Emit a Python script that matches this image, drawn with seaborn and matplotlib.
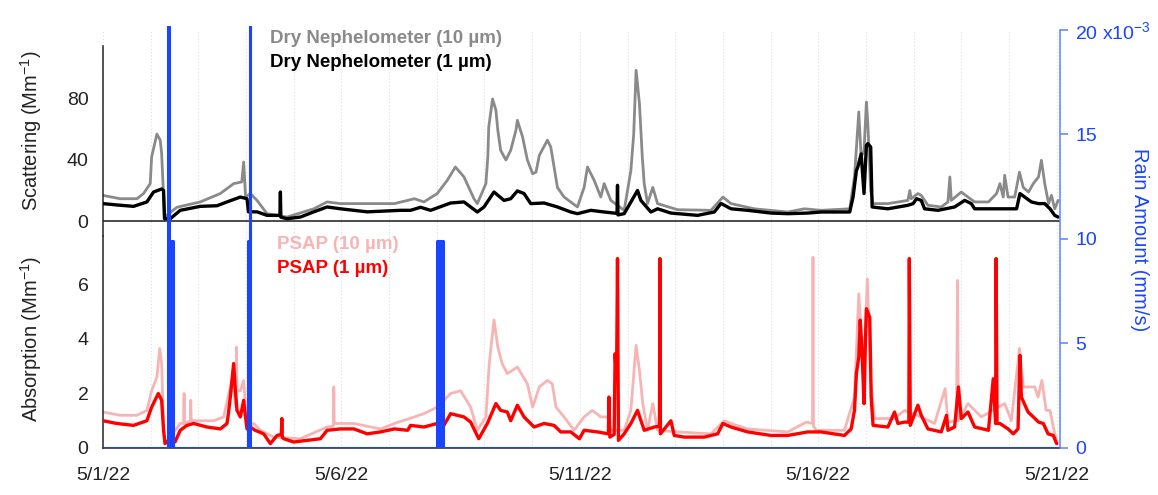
import matplotlib
matplotlib.use('Agg')
import matplotlib.pyplot as plt
import seaborn as sns
import pandas as pd

# time axis: days after 5/1/22 00:00
date_ticks = [0, 5, 10, 15, 20]
date_labels = ['5/1/22', '5/6/22', '5/11/22', '5/16/22', '5/21/22']

# Dry nephelometer scattering, 1 um (black)
scat1_day = [0.00, 0.30, 0.64, 0.92, 1.06, 1.23, 1.27, 1.29, 1.41, 1.62, 2.04, 2.39, 2.60, 2.88,
             3.02, 3.05, 3.23, 3.44, 3.71, 3.72, 3.73, 3.86, 4.14, 4.42, 4.70, 4.98, 5.54, 6.24,
             6.45, 6.66, 6.87, 7.29, 7.57, 7.85, 7.99, 8.20, 8.41, 8.55, 8.69, 8.83, 8.97, 9.25,
             9.53, 9.81, 9.95, 10.23, 10.51, 10.78, 10.79, 10.80, 10.93, 11.21, 11.28, 11.49,
             11.63, 11.91, 12.47, 12.82, 12.96, 13.17, 13.52, 14.01, 14.36, 14.78, 15.06, 15.66,
             15.73, 15.80, 15.83, 15.90, 15.96, 16.01, 16.04, 16.10, 16.13, 16.46, 16.88, 16.99,
             17.06, 17.16, 17.23, 17.51, 17.86, 18.07, 18.21, 18.28, 18.70, 19.16, 19.23, 19.33,
             19.47, 19.62, 19.75, 19.86, 19.96, 20.03]
scat1_val = [11.4, 10.5, 9.6, 12.5, 19.0, 21.0, 20.0, 1.5, 1.5, 7.0, 9.6, 10.0, 12.5, 15.7,
             14.6, 6.0, 6.0, 3.7, 3.7, 19.0, 2.5, 1.5, 2.6, 6.0, 9.2, 8.0, 6.0, 7.0,
             7.0, 9.0, 7.0, 11.8, 12.5, 5.9, 9.2, 19.0, 13.5, 14.6, 19.7, 18.0, 11.4, 11.8,
             9.2, 5.9, 4.8, 7.0, 5.9, 5.0, 23.4, 4.0, 4.8, 20.0, 13.5, 5.9,
             8.0, 5.2, 3.7, 5.9, 11.5, 8.0, 7.0, 5.2, 4.8, 5.2, 5.9, 5.9,
             15.7, 33.0, 35.4, 44.0, 18.0, 49.6, 50.7, 48.5, 9.2, 8.0, 10.3, 11.4,
             14.6, 13.5, 8.0, 7.0, 9.2, 13.5, 11.4, 8.0, 8.0, 8.0, 18.0, 15.7,
             12.5, 11.4, 11.4, 8.0, 3.7, 2.6]

# Dry nephelometer scattering, 10 um (grey)
scat10_day = [0.00, 0.36, 0.71, 0.85, 0.99, 1.02, 1.13, 1.20, 1.23, 1.29, 1.55, 2.04, 2.46, 2.74,
              2.91, 2.95, 2.99, 3.09, 3.23, 3.44, 3.86, 4.42, 4.70, 4.98, 5.54, 6.11, 6.53, 6.73,
              7.01, 7.22, 7.39, 7.57, 7.78, 7.85, 8.03, 8.07, 8.09, 8.17, 8.24, 8.28, 8.34, 8.45,
              8.55, 8.66, 8.69, 8.80, 8.90, 9.01, 9.08, 9.15, 9.32, 9.39, 9.46, 9.53, 9.67, 9.95,
              10.09, 10.16, 10.30, 10.44, 10.51, 10.65, 10.93, 11.07, 11.13, 11.18, 11.25, 11.31,
              11.35, 11.42, 11.53, 11.63, 12.05, 12.75, 13.00, 13.17, 13.66, 14.36, 14.71, 15.06,
              15.66, 15.76, 15.85, 15.90, 15.96, 16.01, 16.04, 16.10, 16.15, 16.46, 16.88, 16.92,
              16.95, 17.09, 17.16, 17.30, 17.58, 17.72, 17.76, 17.79, 18.00, 18.14, 18.28, 18.57,
              18.74, 18.81, 18.88, 18.91, 18.98, 19.12, 19.22, 19.30, 19.41, 19.51, 19.62, 19.68,
              19.75, 19.83, 19.89, 19.96, 20.03]
scat10_val = [16.8, 14.6, 14.6, 18.0, 24.5, 42.0, 57.0, 53.0, 44.0, 2.6, 9.0, 12.5, 18.0, 24.5,
              25.6, 38.7, 15.7, 18.0, 13.5, 4.8, 2.6, 8.0, 12.5, 11.4, 11.4, 11.4, 14.6, 12.5,
              18.0, 26.7, 35.4, 28.9, 14.6, 11.4, 24.5, 42.0, 61.6, 80.0, 72.6, 59.5, 46.3, 40.0,
              46.3, 59.5, 66.0, 55.0, 40.0, 31.0, 32.0, 43.0, 53.0, 48.5, 35.4, 22.0, 15.7, 9.2,
              22.0, 35.4, 26.7, 15.7, 24.5, 13.5, 7.0, 33.0, 57.0, 98.8, 77.0, 42.0,
              24.5, 11.4, 22.0, 11.4, 7.4, 7.0, 15.7, 11.4, 8.0, 5.9, 8.0, 7.0,
              8.0, 28.9, 71.5, 42.0, 46.0, 78.0, 63.8, 20.0, 11.4, 11.4, 13.5, 20.0,
              14.6, 18.0, 16.8, 10.3, 9.2, 12.5, 28.9, 13.5, 19.0, 15.7, 12.5, 12.5,
              18.0, 24.5, 15.7, 30.0, 15.7, 15.7, 32.0, 22.0, 19.0, 24.5, 28.9, 39.8,
              24.5, 11.4, 16.8, 8.0, 13.5]

# PSAP absorption, 1 um (red)
abs1_day = [0.00, 0.29, 0.64, 0.92, 1.02, 1.16, 1.23, 1.27, 1.30, 1.41, 1.51, 1.62, 1.76, 1.90,
            2.18, 2.46, 2.60, 2.63, 2.67, 2.74, 2.77, 2.81, 2.88, 2.95, 2.98, 3.02, 3.09, 3.19,
            3.37, 3.51, 3.65, 3.74, 3.75, 3.76, 3.79, 4.00, 4.28, 4.56, 4.70, 4.98, 5.26, 5.54,
            5.82, 6.11, 6.39, 6.45, 6.73, 7.01, 7.15, 7.29, 7.57, 7.71, 7.88, 8.06, 8.24, 8.34,
            8.48, 8.55, 8.69, 8.83, 9.04, 9.25, 9.46, 9.60, 9.81, 9.99, 10.09, 10.37, 10.60,
            10.61, 10.63, 10.72, 10.74, 10.77, 10.79, 10.81, 10.93, 11.07, 11.21, 11.35, 11.56,
            11.67, 11.68, 11.69, 11.91, 11.98, 12.19, 12.61, 12.89, 13.00, 13.17, 13.52, 14.01,
            14.36, 14.78, 15.06, 15.55, 15.69, 15.76, 15.80, 15.85, 15.88, 15.92, 15.96, 15.99,
            16.01, 16.08, 16.11, 16.15, 16.46, 16.60, 16.67, 16.81, 16.90, 16.91, 16.93, 17.09,
            17.16, 17.30, 17.58, 17.69, 17.72, 17.86, 17.94, 18.00, 18.14, 18.28, 18.57, 18.67,
            18.72, 18.73, 18.75, 18.81, 18.98, 19.09, 19.19, 19.23, 19.26, 19.40, 19.51, 19.62,
            19.72, 19.82, 19.93, 20.00]
abs1_val = [1.00, 0.90, 0.83, 1.00, 1.50, 2.00, 1.75, 0.65, 0.16, 0.34, 0.22, 0.65, 0.83, 0.90,
            0.77, 0.70, 0.90, 1.26, 1.87, 3.10, 2.24, 1.38, 1.14, 1.75, 1.26, 0.70, 0.77, 0.65,
            0.52, 0.16, 0.46, 0.50, 1.08, 0.40, 0.34, 0.22, 0.28, 0.34, 0.65, 0.70, 0.70, 0.52,
            0.59, 0.70, 0.65, 0.83, 0.77, 0.90, 0.83, 1.26, 1.14, 0.95, 0.34, 0.90, 1.63, 1.38,
            1.32, 1.00, 1.57, 1.14, 0.77, 0.90, 0.83, 0.59, 0.59, 0.34, 0.65, 0.59, 0.52,
            1.87, 0.40, 0.50, 3.46, 2.50, 6.95, 0.28, 0.52, 0.90, 1.38, 0.65, 0.77,
            0.80, 6.95, 0.52, 1.00, 0.46, 0.40, 0.40, 0.52, 0.90, 0.77, 0.59, 0.46,
            0.46, 0.59, 0.59, 0.46, 0.70, 1.38, 2.73, 3.34, 4.69, 3.46, 1.63, 3.95,
            5.11, 4.80, 1.87, 0.83, 0.77, 1.32, 0.90, 0.95, 0.95, 6.95, 0.83, 1.57,
            1.20, 0.70, 0.59, 1.20, 0.65, 0.77, 2.24, 1.08, 1.32, 0.77, 0.65, 2.54,
            0.90, 6.95, 0.90, 0.90, 0.70, 0.52, 0.70, 3.40, 1.87, 1.32, 1.14, 0.95,
            0.90, 0.52, 0.46, 0.16]

# PSAP absorption, 10 um (pink)
abs10_day = [0.00, 0.36, 0.71, 0.92, 1.02, 1.13, 1.19, 1.23, 1.27, 1.30, 1.41, 1.62, 1.69, 1.70,
             1.71, 1.83, 1.84, 1.85, 2.04, 2.32, 2.53, 2.70, 2.79, 2.80, 2.81, 2.88, 2.95, 3.02,
             3.16, 3.30, 3.58, 4.14, 4.70, 4.83, 4.84, 4.85, 5.26, 5.82, 6.11, 6.53, 6.73, 7.01,
             7.29, 7.50, 7.71, 7.85, 8.03, 8.10, 8.20, 8.28, 8.37, 8.48, 8.69, 8.90, 9.01, 9.15,
             9.32, 9.42, 9.50, 9.67, 9.88, 10.09, 10.26, 10.44, 10.58, 10.65, 10.93, 11.07, 11.18,
             11.25, 11.32, 11.42, 11.53, 11.63, 12.05, 12.75, 13.03, 13.17, 13.52, 14.36, 14.75,
             14.88, 14.89, 14.90, 14.96, 15.55, 15.76, 15.85, 15.90, 15.96, 16.03, 16.10, 16.18,
             16.60, 16.81, 17.16, 17.44, 17.66, 17.72, 17.90, 17.92, 17.94, 18.14, 18.42, 18.91,
             19.05, 19.22, 19.30, 19.54, 19.61, 19.69, 19.78, 19.86, 19.96, 20.01]
abs10_val = [1.32, 1.20, 1.20, 1.38, 2.10, 2.60, 3.65, 3.10, 0.80, 0.20, 0.40, 0.90, 0.90, 2.00,
             0.90, 1.00, 1.75, 1.00, 1.00, 1.00, 1.14, 2.48, 1.50, 3.70, 2.10, 2.10, 2.48, 0.77,
             0.90, 0.65, 0.40, 0.34, 0.77, 0.80, 2.24, 0.90, 0.90, 0.70, 0.90, 1.14, 1.26, 1.50,
             2.00, 2.10, 1.50, 0.65, 1.14, 3.10, 4.70, 3.70, 3.10, 2.73, 2.97, 2.36, 1.50, 2.24,
             2.48, 2.36, 1.50, 1.14, 0.65, 1.14, 1.38, 1.14, 1.14, 0.65, 0.65, 1.38, 3.77,
             2.85, 1.63, 0.65, 1.63, 0.65, 0.59, 0.52, 1.00, 0.90, 0.70, 0.59, 0.95,
             0.90, 7.00, 0.80, 0.65, 0.65, 1.87, 5.66, 4.32, 3.10, 6.20, 2.48, 1.08,
             1.08, 1.38, 1.14, 0.90, 2.18, 0.95, 1.00, 6.15, 1.00, 1.63, 1.14, 1.63,
             1.00, 3.65, 2.24, 2.24, 1.87, 2.48, 1.38, 1.38, 0.52, 0.16]

# rain amount (mm/s), step series
rain_day = [0.00, 1.36, 1.375, 1.47, 3.045, 3.075, 3.09, 7.015, 7.135, 20.07]
rain_val = [0.0, 0.030, 0.0099, 0.0, 0.0099, 0.030, 0.0, 0.0099, 0.0, 0.0]
rain_ticks = [0, 0.005, 0.010, 0.015, 0.020]
rain_labels = ['0', '5', '10', '15', '20 x10$^{-3}$']

sns.set_style('white')
plt.rcParams['font.family'] = ['Liberation Sans', 'DejaVu Sans']
plt.rcParams['mathtext.default'] = 'regular'

GREY, BLACK, PINK, RED, BLUE = '#8a8a8a', '#000000', '#f7b4b4', '#ff0000', '#1a45ff'
XMAX = 20.07

fig = plt.figure(figsize=(11.58, 4.95), dpi=100)
ax_top = fig.add_axes([0.08895, 0.5232, 0.82642, 0.4162])
ax_bot = fig.add_axes([0.08895, 0.09495, 0.82642, 0.4283])
ax_rain = fig.add_axes([0.08895, 0.09495, 0.82642, 0.8525])

scat10 = pd.DataFrame({'day': scat10_day, 'val': scat10_val})
scat1 = pd.DataFrame({'day': scat1_day, 'val': scat1_val})
abs10 = pd.DataFrame({'day': abs10_day, 'val': abs10_val})
abs1 = pd.DataFrame({'day': abs1_day, 'val': abs1_val})

# top panel: scattering
ax_top.axhline(0, color='#3c3c3c', lw=1.3, zorder=1)
sns.lineplot(data=scat10, x='day', y='val', ax=ax_top, color=GREY, lw=2.0,
             estimator=None, sort=False, zorder=2)
sns.lineplot(data=scat1, x='day', y='val', ax=ax_top, color=BLACK, lw=2.4,
             estimator=None, sort=False, zorder=3)
ax_top.set_ylim(-9.84, 125.2)
ax_top.spines['left'].set_bounds(-9.84, 114.75)

# bottom panel: absorption
sns.lineplot(data=abs10, x='day', y='val', ax=ax_bot, color=PINK, lw=2.0,
             estimator=None, sort=False, zorder=2)
sns.lineplot(data=abs1, x='day', y='val', ax=ax_bot, color=RED, lw=2.4,
             estimator=None, sort=False, zorder=3)
ax_bot.set_ylim(0, 7.78)

for ax in (ax_top, ax_bot):
    ax.set_xlim(0, XMAX)
    ax.set_xlabel('')
    ax.set_ylabel('')
    ax.patch.set_alpha(0)
    for s in ('top', 'right'):
        ax.spines[s].set_visible(False)
    ax.spines['left'].set_linewidth(1.1)
    ax.set_xticks(date_ticks)
    ax.set_xticks(range(21), minor=True)
    ax.grid(which='both', axis='x', color='#dedede', lw=0.8, ls=(0, (1, 2)))
    ax.grid(False, axis='y')
    ax.tick_params(axis='y', which='major', direction='out', length=7, width=1.1,
                   labelsize=14, colors='#222222')
    ax.tick_params(axis='y', which='minor', direction='out', length=3.5, width=1.1)

ax_top.spines['bottom'].set_visible(False)
ax_top.tick_params(axis='x', which='both', length=0, labelbottom=False)
ax_top.set_yticks([0, 40, 80])
ax_top.set_yticks([20, 60, 100], minor=True)

ax_bot.spines['bottom'].set_linewidth(1.1)
ax_bot.set_xticklabels(date_labels)
ax_bot.tick_params(axis='x', which='both', direction='out', length=8, width=1.1,
                   labelsize=14, colors='#222222', pad=6)
ax_bot.set_yticks([0, 2, 4, 6])
ax_bot.set_yticks([1, 3, 5, 7], minor=True)

# rain on a single right axis spanning both panels
ax_rain.fill_between(rain_day, rain_val, step='post', color=BLUE, lw=0)
ax_rain.plot(rain_day, rain_val, drawstyle='steps-post', color=BLUE, lw=2.2)
ax_rain.set_xlim(0, XMAX)
ax_rain.set_ylim(0, 0.02019)
ax_rain.patch.set_alpha(0)
for s in ('top', 'left', 'bottom'):
    ax_rain.spines[s].set_visible(False)
ax_rain.yaxis.tick_right()
ax_rain.spines['right'].set_color('#5b80ff')
ax_rain.spines['right'].set_linewidth(1.1)
ax_rain.spines['right'].set_bounds(0, 0.020)
ax_rain.set_xticks([])
ax_rain.set_yticks(rain_ticks)
ax_rain.set_yticklabels(rain_labels)
ax_rain.tick_params(axis='y', direction='out', length=6, width=1.1, color='#5b80ff',
                    labelcolor=BLUE, labelsize=14, pad=5)

# axis titles
fig.text(0.0265, 0.735, 'Scattering (Mm$^{-1}$)', rotation=90, ha='center', va='center',
         fontsize=14.5, color='#222222')
fig.text(0.0265, 0.315, 'Absorption (Mm$^{-1}$)', rotation=90, ha='center', va='center',
         fontsize=14.5, color='#222222')
fig.text(0.984, 0.515, 'Rain Amount (mm/s)', rotation=270, ha='center', va='center',
         fontsize=14.5, color=BLUE)

# legend texts
fig.text(0.2332, 0.923, 'Dry Nephelometer (10 µm)', ha='left', va='center',
         fontsize=13.5, fontweight='bold', color=GREY)
fig.text(0.2332, 0.873, 'Dry Nephelometer (1 µm)', ha='left', va='center',
         fontsize=13.5, fontweight='bold', color=BLACK)
fig.text(0.2392, 0.507, 'PSAP (10 µm)', ha='left', va='center',
         fontsize=13.5, fontweight='bold', color=PINK)
fig.text(0.2392, 0.458, 'PSAP (1 µm)', ha='left', va='center',
         fontsize=13.5, fontweight='bold', color=RED)

fig.savefig('out.png', dpi=100)
